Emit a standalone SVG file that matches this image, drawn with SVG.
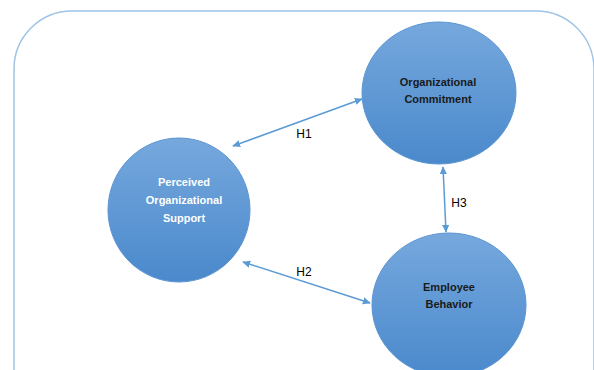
<svg xmlns="http://www.w3.org/2000/svg" width="594" height="370" viewBox="0 0 594 370">
  <defs>
    <linearGradient id="nodeFill" x1="0" y1="0" x2="0" y2="1">
      <stop offset="0" stop-color="#76a8dd"/>
      <stop offset="1" stop-color="#4a89cc"/>
    </linearGradient>
    <marker id="arrow" viewBox="0 0 10 10" refX="9" refY="5" markerWidth="8" markerHeight="8" markerUnits="userSpaceOnUse" orient="auto-start-reverse">
      <path d="M0,0.5 L10,5 L0,9.5 Z" fill="#5b9bd5"/>
    </marker>
    <style>
      .frame { fill: #ffffff; stroke: #9dc3e6; stroke-width: 1.5; }
      .node { fill: url(#nodeFill); stroke: #5b95d2; stroke-width: 1; }
      .label-light { font-family: "Liberation Sans", Arial, sans-serif; font-size: 11px; font-weight: bold; fill: #ffffff; text-anchor: middle; }
      .label-dark { font-family: "Liberation Sans", Arial, sans-serif; font-size: 11px; font-weight: bold; fill: #1a1a1a; text-anchor: middle; }
      .link { fill: none; stroke: #5b9bd5; stroke-width: 1.5; marker-start: url(#arrow); marker-end: url(#arrow); }
      .hyp { font-family: "Liberation Sans", Arial, sans-serif; font-size: 12px; fill: #000000; text-anchor: middle; }
    </style>
  </defs>

  <rect class="frame" x="14" y="11" width="580" height="420" rx="58" ry="58"/>

  <g id="connectors">
    <line class="link" x1="233" y1="146" x2="362" y2="99"/>
    <line class="link" x1="243" y1="262" x2="370" y2="303"/>
    <line class="link" x1="443" y1="167" x2="446" y2="232"/>
    <text class="hyp" x="304" y="138">H1</text>
    <text class="hyp" x="304" y="276">H2</text>
    <text class="hyp" x="459" y="207">H3</text>
  </g>

  <g id="perceived-organizational-support">
    <ellipse class="node" cx="179" cy="210" rx="71" ry="72"/>
    <text class="label-light" x="184" y="186">Perceived</text>
    <text class="label-light" x="184" y="204">Organizational</text>
    <text class="label-light" x="184" y="222">Support</text>
  </g>

  <g id="organizational-commitment">
    <ellipse class="node" cx="439" cy="93" rx="77" ry="71"/>
    <text class="label-dark" x="438" y="86">Organizational</text>
    <text class="label-dark" x="438" y="103">Commitment</text>
  </g>

  <g id="employee-behavior">
    <ellipse class="node" cx="449" cy="305" rx="77" ry="72"/>
    <text class="label-dark" x="449" y="291">Employee</text>
    <text class="label-dark" x="449" y="308">Behavior</text>
  </g>
</svg>
